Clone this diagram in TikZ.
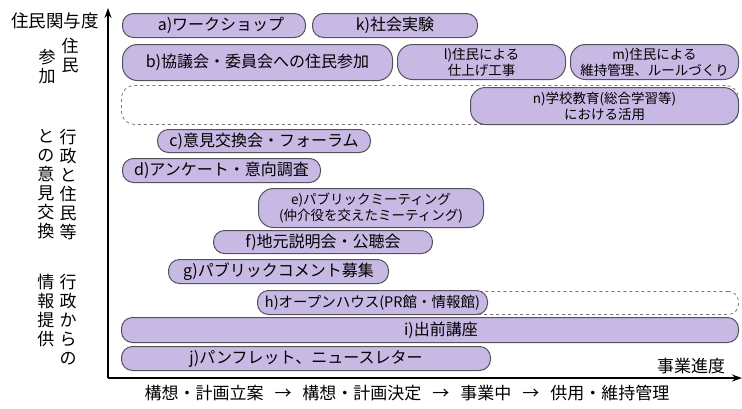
\documentclass[tikz,border=0pt]{standalone}
\usepackage{fontspec}
\setmainfont{Noto Sans CJK JP}
\usetikzlibrary{arrows.meta}
\definecolor{lav}{RGB}{200,184,228}
\definecolor{edgec}{RGB}{85,82,92}
\begin{document}
\begin{tikzpicture}[x=1pt,y=-1pt,
  box/.style={draw=edgec, fill=lav, line width=1pt, rounded corners=11pt,
    inner sep=0pt, anchor=north west, align=center,
    font=\fontsize{16}{18}\selectfont},
  tallbox/.style={box, rounded corners=15pt, font=\fontsize{13.5}{16}\selectfont},
  dashbox/.style={draw=edgec!80, dashed, line width=0.8pt, rounded corners=13pt,
    inner sep=0pt, anchor=north west},
  lab/.style={inner sep=0pt, align=center, font=\fontsize{17}{19}\selectfont},
  axis/.style={line width=1.8pt, -{Stealth[length=10pt,width=7pt]}}
]
\useasboundingbox (0,0) rectangle (742,408);

% axes
\coordinate (O) at (108,378);
\coordinate (Ytop) at (108,8);
\coordinate (Xend) at (742,378);
\draw[axis] (O) -- (Ytop);
\draw[axis] (O) -- (Xend);

% axis labels
\node[lab, font=\fontsize{17.5}{19}\selectfont] (ylab) at (55,21) {住民関与度};
\node[lab] (xlab) at (691,366) {事業進度};
\node[lab] (stages) at (407,393) {構想・計画立案\hspace{11pt}→\hspace{11pt}構想・計画決定\hspace{11pt}→\hspace{11pt}事業中\hspace{11pt}→\hspace{11pt}供用・維持管理};

% category labels (vertical)
\node[lab] (g1r) at (70,56) {住\\民};
\node[lab] (g1l) at (47,67) {参\\加};
\node[lab] (g2r) at (68,185) {行\\政\\と\\住\\民\\等};
\node[lab] (g2l) at (46,184) {と\\の\\意\\見\\交\\換};
\node[lab] (g3r) at (68,320) {行\\政\\か\\ら\\の};
\node[lab] (g3l) at (46,311) {情\\報\\提\\供};

% dashed ranges
\node[dashbox, minimum width=617pt, minimum height=39pt] (nrow) at (121,85) {};
\node[dashbox, rounded corners=10pt, minimum width=476pt, minimum height=23pt] (hrow) at (262,291) {};

% boxes
\node[box, minimum width=183pt, minimum height=24pt] (a) at (122,13) {\hspace{14pt}a)ワークショップ};
\node[box, minimum width=165pt, minimum height=24pt] (k) at (312,13) {k)社会実験};
\node[box, rounded corners=15pt, minimum width=270pt, minimum height=36pt] (b) at (122,44) {b)協議会・委員会への住民参加};
\node[tallbox, minimum width=168pt, minimum height=35pt] (l) at (397,44) {l)住民による\\仕上げ工事};
\node[tallbox, minimum width=168pt, minimum height=35pt] (m) at (570,44) {m)住民による\\維持管理、ルールづくり};
\node[tallbox, minimum width=268pt, minimum height=37pt] (n) at (470,87) {n)学校教育(総合学習等)\\における活用};
\node[box, minimum width=213pt, minimum height=23pt] (c) at (157,129) {c)意見交換会・フォーラム};
\node[box, minimum width=198pt, minimum height=24pt] (d) at (122,158) {d)アンケート・意向調査};
\node[tallbox, minimum width=225pt, minimum height=39pt] (e) at (258,188) {e)パブリックミーティング\\(仲介役を交えたミーティング)};
\node[box, minimum width=219pt, minimum height=23pt] (f) at (213,230) {f)地元説明会・公聴会};
\node[box, minimum width=220pt, minimum height=24pt] (g) at (168,259) {g)パブリックコメント募集};
\node[box, minimum width=230pt, minimum height=24pt, font=\fontsize{14.5}{16}\selectfont] (h) at (257,290) {h)オープンハウス(PR館・情報館)};
\node[box, minimum width=617pt, minimum height=25pt] (i) at (121,317) {\hspace{22pt}i)出前講座};
\node[box, minimum width=369pt, minimum height=24pt] (j) at (121,346) {j)パンフレット、ニュースレター};
\end{tikzpicture}
\end{document}
